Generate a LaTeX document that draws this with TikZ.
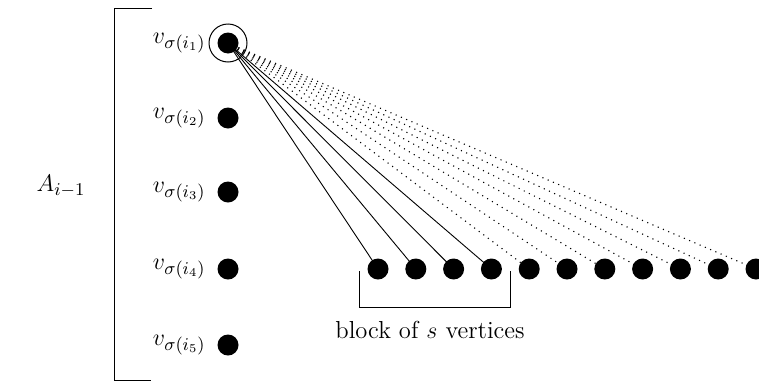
\documentclass[tikz,border=0pt]{standalone}
\usetikzlibrary{backgrounds}
\begin{document}
\begin{tikzpicture}[x=0.5pt,y=-0.5pt,
  vdot/.style={circle,fill=black,inner sep=0pt,minimum size=10.5pt},
  txt/.style={font=\fontsize{12.3}{14}\selectfont},
  lab/.style={txt,anchor=east,inner sep=0pt},
  fan/.style={line width=0.45pt},
  fandot/.style={line width=0.55pt,dash pattern=on 0.55pt off 2.3pt}]
\useasboundingbox (0,0) rectangle (759,386);
% left bracket
\draw[line width=0.45pt] (152,8) -- (114,8) -- (114,380) -- (151,380);
\node[txt] (A) at (61,186) {$A_{i-1}$};
% column vertices
\foreach \k/\y in {1/43,2/118,3/192,4/269,5/345}{
  \node[vdot] (v\k) at (228,\y) {};
  \node[lab] (l\k) at (206,\y) {$v_{\sigma(i_{\k})}$};
}
\node[draw,circle,inner sep=0pt,minimum size=19pt,line width=0.5pt] (c1) at (v1) {};
% row vertices
\foreach \k in {1,...,11}{
  \node[vdot] (b\k) at ({378+37.8*(\k-1)},269) {};
}
\begin{scope}[on background layer]
\foreach \k in {1,...,4}{ \draw[fan] (v1.center) -- (b\k.center); }
\foreach \k in {5,...,11}{ \draw[fandot] (v1.center) -- (b\k.center); }
\end{scope}
% block bracket
\draw[line width=0.45pt] (359,271) -- (359,307) -- (510.5,307) -- (510.5,271);
\node[txt] (blk) at (430,330) {block of $s$ vertices};
\end{tikzpicture}
\end{document}
